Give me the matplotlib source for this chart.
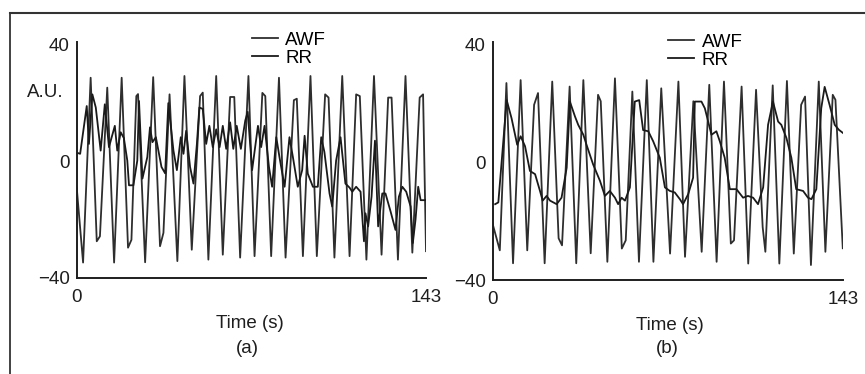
import matplotlib
matplotlib.use("Agg")
import matplotlib.pyplot as plt
from matplotlib.lines import Line2D

plt.rcParams['font.family'] = ['Liberation Sans', 'DejaVu Sans']

# panel (a) - AWF vertices (time in s, value in A.U.)
awf_a_t = [0, 2.6, 5.7, 8.2, 9.5, 12.5, 15.3, 18.4, 21.0, 22.4,
           24.4, 25.1, 28.0, 31.3, 34.1, 35.5, 38.0, 41.2, 44.1, 47.1,
           50.5, 51.6, 53.9, 57.1, 59.8, 62.8, 64.5, 66.9, 70.3, 72.8,
           76.0, 77.2, 79.6, 82.8, 85.5, 88.9, 90.1, 92.6, 95.7, 98.3,
           101.7, 103.1, 105.5, 108.7, 111.7, 114.4, 115.9, 118.6, 121.7, 124.8,
           127.5, 128.9, 131.5, 134.6, 137.4, 140.4, 141.8, 143]
awf_a_v = [-9, -34.7, 28.7, -27.4, -25.7, 25.3, -34.7, 28.7, -29.6, -26.9,
           22.4, 23.1, -34.6, 28.9, -29.1, -24.5, 23, -34.2, 29.3, -30.3,
           22.4, 23.6, -33.7, 29.3, -32, 22.1, 22.1, -33, 29.3, -32.5,
           23.5, 22.4, -32.5, 28.7, -33, 21, 21.5, -32.5, 29.3, -32.5,
           23, 21.9, -33, 29.3, -32.5, 23, 22.4, -33.7, 29.3, -32,
           21.9, 21.9, -33.7, 29.3, -31.3, 21.9, 23, -30.8]

# panel (a) - RR
rr_a_t = [0, 1.4, 4.1, 5.0, 6.4, 7.8, 9.8, 11.5, 13.2, 15.6,
          16.6, 18.0, 19.3, 20.7, 21.4, 23.2, 24.8, 25.5, 26.9, 28.9,
          30.0, 31.0, 32.4, 34.7, 36.2, 37.5, 39.6, 41.0, 42.6, 43.7,
          44.8, 46.4, 47.8, 49.2, 50.2, 51.6, 53.0, 54.3, 55.7, 57.1,
          58.5, 59.8, 61.2, 62.8, 64.1, 65.5, 67.2, 69.0, 70.0, 71.8,
          74.2, 75.5, 76.9, 78.7, 80.0, 81.7, 83.0, 85.1, 87.1, 88.5,
          90.5, 92.3, 93.3, 94.6, 96.7, 98.7, 100.1, 101.4, 103.5, 104.6,
          106.2, 108.0, 110.0, 111.7, 112.8, 114.4, 116.2, 117.6, 118.2, 119.3,
          120.7, 122.1, 123.4, 125.1, 126.4, 128.5, 130.5, 131.9, 133.3, 134.9,
          136.7, 137.6, 138.7, 139.8, 140.8, 143]
rr_a_v = [3, 2.6, 19, 6, 23, 18.5, 3.7, 19.6, 4.9, 12.2,
          3.7, 10, 8, 0.3, -8.2, -8.2, 0.3, 20.7, -5.9, 1.5,
          11.7, 6.6, 8.3, -1.9, -4.1, 20, 3.7, -3, 8.3, 2.6,
          10.5, -1.9, -7.6, 6, 18.5, 18, 6, 12.2, 4.9, 11,
          4.9, 12.2, 4.3, 13.4, 4.3, 12.2, 4.3, 14, 17, -3,
          12.2, 4.9, 12.2, -1.9, -8.7, 8.3, 1.5, -8.7, 8.3, 1.5,
          -8.7, -3, 8.8, -4.2, -8.7, -8.7, 8.3, 3.2, -11, -15.5,
          0.3, 8.3, -7.6, -9, -10.4, -8.7, -10.4, -27.4, -17.8, -22.3,
          -12.1, 7.1, -22.3, -11, -11, -17.2, -23.5, -12.1, -8.7, -10.4,
          -15.5, -28, -20, -8.7, -13.3, -13.3]

# panel (b) - AWF
awf_b_t = [0, 2.9, 5.6, 8.3, 11.4, 14.1, 16.9, 18.5, 21.2,
           24.3, 26.9, 28.3, 31.4, 34.1, 37.0, 40.0, 43.0, 44.1, 46.8,
           49.9, 52.7, 54.3, 57.0, 59.7, 62.9, 65.6, 68.8, 72.4, 75.8,
           78.5, 81.9, 85.3, 88.4, 91.4, 94.4, 97.2, 98.5, 101.6, 104.3,
           107.5, 110.2, 111.3, 114.3, 117.0, 120.1, 122.9, 125.9, 127.5, 129.9,
           133.1, 135.8, 138.8, 139.9, 142.9]
awf_b_v = [-21, -29.9, 27, -34.3, 28, -29.9, 19.6, 23.6, -34.3,
           27.5, -25.8, -28.2, 25.8, -34.3, 28, -30.9, 23, 20.8, -33.8,
           28.6, -29.3, -26.5, 24.1, -33.8, 28, -33.8, 25.2, -31, 27.5,
           -32.1, 20.8, -30.4, 26.4, -33.8, 27.5, -27.6, -26.5, 25.8, -34.4,
           24.7, -22, -30.4, 26.2, -34.4, 27.7, -31, 19.6, 22.4, -34.9,
           27.5, -30.4, 23, 21.3, -29.2]

# panel (b) - RR
rr_b_t = [1, 2.3, 5.7, 7.7, 10.0, 11.4, 13.2, 15.2, 17.3, 19.3,
          20.4, 22.0, 23.4, 26.1, 28.1, 30.2, 31.5, 33.6, 34.9, 37.0,
          38.3, 41.0, 43.8, 45.8, 47.8, 49.9, 51.2, 52.6, 54.0, 56.0,
          58.0, 59.8, 61.4, 63.5, 65.5, 68.2, 70.3, 72.3, 74.3, 76.4,
          77.7, 79.8, 81.8, 82.5, 85.2, 86.6, 89.3, 91.3, 92.7, 94.7,
          96.8, 99.5, 102.2, 104.2, 106.3, 108.3, 110.4, 112.4, 114.4, 116.5,
          117.8, 119.9, 121.9, 123.9, 126.7, 128.7, 130.1, 132.1, 134.1, 135.5,
          137.5, 139.6, 141.3, 143]
rr_b_v = [-14.2, -13.6, 21.2, 15, 6, 8.9, 5.5, -2.9, -4, -9.7,
          -13, -11.4, -13, -14.2, -12, -1.8, 20.7, 15.6, 12.8, 9.4,
          6, -0.7, -6.3, -11.4, -9.7, -12, -14.2, -12, -13, -8.5,
          20.7, 21.2, 11, 10.6, 7.2, 1.6, -8.5, -9.7, -10.2, -12.5,
          -14.2, -10.8, -5.2, 20.7, 20.7, 18.4, 9.4, 10.6, 7.2, 1.6,
          -9.1, -9.1, -12, -11.4, -12, -14.2, -8.5, 12.8, 20.7, 13.9,
          12.8, 8.3, 1.6, -9.1, -9.7, -12, -12.5, -9.1, 18.4, 25.7,
          19.6, 12.8, 11.1, 10]

y_ticks = [-40, 0, 40]
y_labels = ['\u221240', '0', '40']
x_ticks = [0, 143]
x_labels = ['0', '143']

fig = plt.figure(figsize=(8.65, 3.74), dpi=100)
fs = 13.5
ink = '#1e1e1e'

ax_a = fig.add_axes([0.0887, 0.2567, 0.4038, 0.6313])
ax_b = fig.add_axes([0.5696, 0.2513, 0.4050, 0.6367])

panels = [(ax_a, awf_a_t, awf_a_v, rr_a_t, rr_a_v, 0.291, 0.915),
          (ax_b, awf_b_t, awf_b_v, rr_b_t, rr_b_v, 0.772, 0.91)]

for ax, at, av, rt, rv, lx, ly in panels:
    ax.plot(at, av, color='#2e2e2e', lw=1.3, label='AWF')
    ax.plot(rt, rv, color='#1a1a1a', lw=1.3, label='RR')
    ax.set_xlim(0, 143)
    ax.set_ylim(-40, 41)
    ax.set_yticks(y_ticks)
    ax.set_yticklabels(y_labels)
    ax.set_xticks(x_ticks)
    ax.set_xticklabels(x_labels)
    ax.tick_params(length=0, labelsize=fs, colors=ink)
    ax.tick_params(axis='y', pad=5)
    ax.tick_params(axis='x', pad=8)
    for s in ['top', 'right']:
        ax.spines[s].set_visible(False)
    for s in ['left', 'bottom']:
        ax.spines[s].set_linewidth(1.4)
        ax.spines[s].set_color(ink)
    ax.legend(loc='upper left', bbox_to_anchor=(lx, ly), bbox_transform=fig.transFigure,
              frameon=False, fontsize=fs, handlelength=1.4, handletextpad=0.4,
              labelspacing=0.05, borderpad=0, borderaxespad=0)

fig.text(0.073, 0.754, 'A.U.', ha='right', va='center', fontsize=fs, color=ink)
fig.text(0.289, 0.136, 'Time (s)', ha='center', va='center', fontsize=fs, color=ink)
fig.text(0.286, 0.069, '(a)', ha='center', va='center', fontsize=fs, color=ink)
fig.text(0.775, 0.131, 'Time (s)', ha='center', va='center', fontsize=fs, color=ink)
fig.text(0.772, 0.069, '(b)', ha='center', va='center', fontsize=fs, color=ink)

# outer frame of the scanned figure
top = 1 - 12.5 / 374
left = 10 / 865
fig.add_artist(Line2D([left, left], [0, top], transform=fig.transFigure, color='#333333', lw=1.3))
fig.add_artist(Line2D([left, 1], [top, top], transform=fig.transFigure, color='#333333', lw=1.5))

fig.savefig('out.png', dpi=100)
